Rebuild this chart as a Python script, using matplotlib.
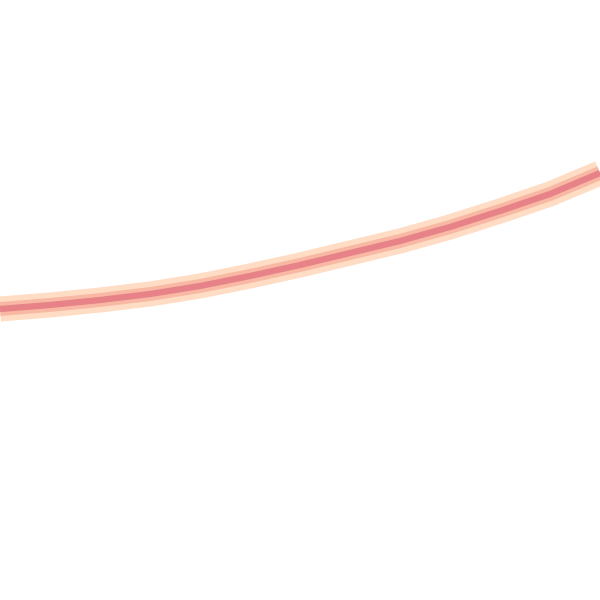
import numpy as np
import matplotlib.pyplot as plt

x = np.array([0, 50, 100, 150, 200, 250, 300, 350, 400, 450, 500, 550, 600])
y = np.array([309, 305, 300, 294, 286, 276, 265, 253, 241, 227, 211, 194, 173])

fig = plt.figure(figsize=(6, 6), dpi=100)
ax = fig.add_axes([0, 0, 1, 1])

# soft halo, mid band, core line
ax.plot(x, y, color='#ffdcc4', linewidth=18, solid_capstyle='butt')
ax.plot(x, y, color='#f8b8a4', linewidth=10, solid_capstyle='butt')
ax.plot(x, y, color='#e68288', linewidth=4.5, solid_capstyle='butt')

ax.set_xlim(0, 600)
ax.set_ylim(600, 0)
ax.axis('off')

fig.savefig('out.png', dpi=100)
